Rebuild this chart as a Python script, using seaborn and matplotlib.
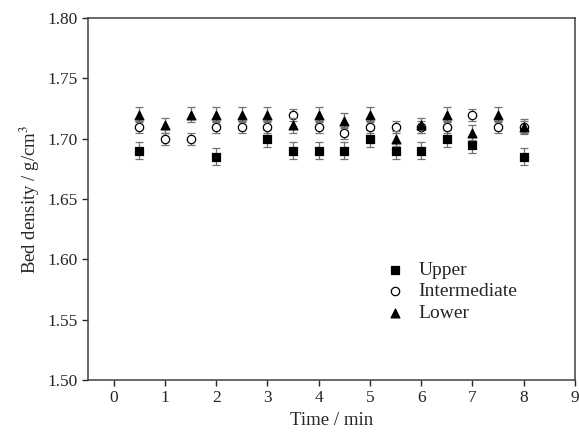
import numpy as np
import pandas as pd
import matplotlib
matplotlib.use("Agg")
import matplotlib.pyplot as plt
import seaborn as sns

# sampling times (min)
time = [0.5, 1.0, 1.5, 2.0, 2.5, 3.0, 3.5, 4.0, 4.5, 5.0, 5.5, 6.0, 6.5, 7.0, 7.5, 8.0]

# bed density (g/cm3); nan where the square is hidden behind a circle
upper = [1.690, np.nan, np.nan, 1.685, np.nan, 1.700, 1.690, 1.690,
         1.690, 1.700, 1.690, 1.690, 1.700, 1.695, np.nan, 1.685]
intermediate = [1.710, 1.700, 1.700, 1.710, 1.710, 1.710, 1.720, 1.710,
                1.705, 1.710, 1.710, 1.710, 1.710, 1.720, 1.710, 1.710]
lower = [1.720, 1.711, 1.720, 1.720, 1.720, 1.720, 1.711, 1.720,
         1.715, 1.720, 1.700, 1.711, 1.720, 1.705, 1.720, 1.710]

upper_err = [0.007] * 16
intermediate_err = [0.005] * 16
lower_err = [0.006] * 16

sns.set_theme(style="ticks")
plt.rcParams['font.family'] = ['Liberation Serif', 'DejaVu Serif']
plt.rcParams['mathtext.fontset'] = 'stix'

fig = plt.figure(figsize=(5.79, 4.33), dpi=100)
ax = fig.add_axes([88 / 579, 1 - 380 / 433, (575 - 88) / 579, (380 - 18) / 433])

series = [
    ("Upper", upper, upper_err, "s", "black", 30),
    ("Intermediate", intermediate, intermediate_err, "o", "white", 36),
    ("Lower", lower, lower_err, "^", "black", 40),
]

for z, (name, vals, err, mk, fc, size) in enumerate(series):
    ax.errorbar(time, vals, yerr=err, fmt="none", ecolor="0.45",
                elinewidth=0.9, capsize=3, capthick=0.9, zorder=2 + 2 * z)
    df = pd.DataFrame({"time": time, "density": vals})
    sns.scatterplot(data=df, x="time", y="density", ax=ax, marker=mk,
                    s=size, color=fc, edgecolor="black", linewidth=0.9,
                    label=name, zorder=3 + 2 * z)

ax.set_xlim(-0.5, 9)
ax.set_ylim(1.50, 1.80)
ax.set_xticks(range(0, 10))
ax.set_yticks(np.arange(1.50, 1.801, 0.05))
ax.yaxis.set_major_formatter(matplotlib.ticker.FormatStrFormatter('%.2f'))
ax.tick_params(direction="out", length=4, width=1, labelsize=12.5, colors="0.15")
for sp in ax.spines.values():
    sp.set_linewidth(1.1)
    sp.set_color("0.25")

ax.set_xlabel("Time / min", fontsize=13.5, color="0.15")
ax.set_ylabel("Bed density / g/cm$^{3}$", fontsize=13.5, color="0.15")

leg = ax.legend(loc="center left", bbox_to_anchor=(0.571, 0.245), frameon=False,
                fontsize=14, handletextpad=0.6, labelspacing=0.2,
                handlelength=1.2)

plt.savefig("out.png", dpi=100)
